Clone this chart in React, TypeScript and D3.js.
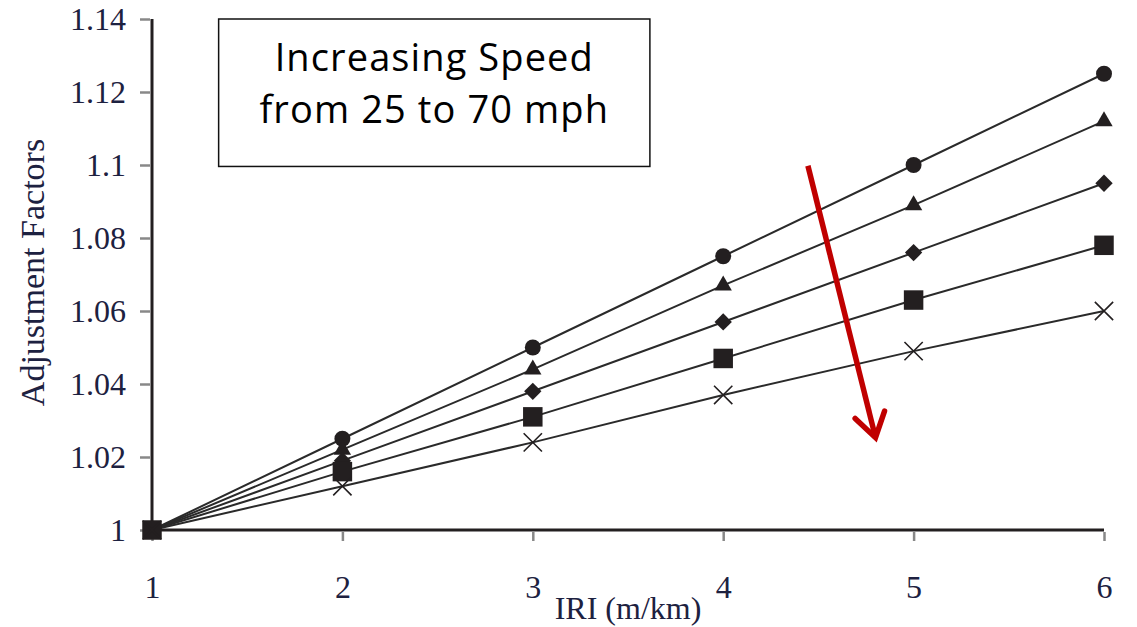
import * as d3 from 'd3';
import { useEffect, useRef } from 'react';

// IRI values (m/km)
const iri = [1, 2, 3, 4, 5, 6];

// adjustment factors, top line to bottom line (25 -> 70 mph)
const circleVals = [1, 1.025, 1.05, 1.075, 1.1, 1.125];
const triangleVals = [1, 1.022, 1.044, 1.067, 1.089, 1.112];
const diamondVals = [1, 1.019, 1.038, 1.057, 1.076, 1.095];
const squareVals = [1, 1.016, 1.031, 1.047, 1.063, 1.078];
const crossVals = [1, 1.012, 1.024, 1.037, 1.049, 1.06];

const yTicks = [1, 1.02, 1.04, 1.06, 1.08, 1.1, 1.12, 1.14];
const xTicks = [1, 2, 3, 4, 5, 6];

// annotation: text box corners and arrow ends, in data units
const boxX = [1.35, 3.615];
const boxY = [1.14, 1.0996];
const arrowX = [4.445, 4.8];
const arrowY = [1.0998, 1.0253];
const boxLines = ['Increasing Speed', 'from 25 to 70 mph'];

const series = [
    { name: 'circle', values: circleVals },
    { name: 'triangle', values: triangleVals },
    { name: 'diamond', values: diamondVals },
    { name: 'square', values: squareVals },
    { name: 'cross', values: crossVals },
];

function App() {
    const ref = useRef(null);

    useEffect(() => {
        document.body.style.margin = '0';
        const svg = d3.select(ref.current);
        svg.selectAll('*').remove();

        const width = 1137;
        const height = 627;
        const margin = { top: 19, right: 33, bottom: 97, left: 152 };

        const x = d3.scaleLinear().domain([1, 6]).range([margin.left, width - margin.right]);
        const y = d3.scaleLinear().domain([1, 1.14]).range([height - margin.bottom, margin.top]);

        const labelColor = '#1d2140';
        const serif = '"Liberation Serif", "DejaVu Serif", serif';

        // y axis
        const gy = svg.append('g')
            .attr('transform', `translate(${margin.left},0)`)
            .call(d3.axisLeft(y).tickValues(yTicks).tickSize(12).tickPadding(14)
                .tickFormat(d => String(+d.toFixed(2))));
        gy.select('.domain').attr('stroke', '#231f20').attr('stroke-width', 3)
            .attr('d', `M0,${y(1)}V${y(1.14)}`);
        gy.selectAll('.tick line').attr('stroke', '#888').attr('stroke-width', 2.5).attr('x2', -12).attr('x1', -2);
        gy.selectAll('.tick text').attr('fill', labelColor).attr('font-family', serif)
            .attr('font-size', 32).attr('dy', '0.33em');

        // x axis
        const gx = svg.append('g')
            .attr('transform', `translate(0,${y(1)})`)
            .call(d3.axisBottom(x).tickValues(xTicks).tickSize(11).tickPadding(34)
                .tickFormat(d3.format('d')));
        gx.select('.domain').attr('stroke', '#231f20').attr('stroke-width', 3)
            .attr('d', `M${x(1)},0H${x(6)}`);
        gx.selectAll('.tick line').attr('stroke', '#888').attr('stroke-width', 2.5).attr('y1', 2);
        gx.selectAll('.tick text').attr('fill', labelColor).attr('font-family', serif)
            .attr('font-size', 32);

        // axis titles
        svg.append('text')
            .attr('x', (x(1) + x(6)) / 2)
            .attr('y', 619)
            .attr('text-anchor', 'middle')
            .attr('font-family', serif)
            .attr('font-size', 32)
            .attr('fill', labelColor)
            .text('IRI (m/km)');

        svg.append('text')
            .attr('transform', `translate(44,${(y(1) + y(1.14)) / 2 - 2}) rotate(-90)`)
            .attr('text-anchor', 'middle')
            .attr('font-family', serif)
            .attr('font-size', 34)
            .attr('fill', labelColor)
            .text('Adjustment Factors');

        // lines
        const line = d3.line()
            .x((d, i) => x(iri[i]))
            .y(d => y(d));

        svg.selectAll('.series')
            .data(series)
            .join('path')
            .attr('class', 'series')
            .attr('fill', 'none')
            .attr('stroke', '#2a2a2a')
            .attr('stroke-width', 2)
            .attr('d', d => line(d.values));

        // markers
        const symbols = {
            circle: d3.symbol(d3.symbolCircle, 200),
            triangle: d3.symbol(d3.symbolTriangle, 130),
            diamond: d3.symbol(d3.symbolSquare, 150),
            square: d3.symbol(d3.symbolSquare, 380),
        };

        series.forEach(s => {
            const g = svg.append('g');
            const pts = s.values.map((v, i) => ({ x: iri[i], y: v }));
            if (s.name === 'cross') {
                g.selectAll('path')
                    .data(pts)
                    .join('path')
                    .attr('transform', d => `translate(${x(d.x)},${y(d.y)})`)
                    .attr('d', d3.symbol(d3.symbolTimes, 220)())
                    .attr('fill', 'none')
                    .attr('stroke', '#231f20')
                    .attr('stroke-width', 1.6);
            } else {
                const rot = s.name === 'diamond' ? ' rotate(45)' : '';
                g.selectAll('path')
                    .data(pts)
                    .join('path')
                    .attr('transform', d => `translate(${x(d.x)},${y(d.y)})${rot}`)
                    .attr('d', symbols[s.name]())
                    .attr('fill', '#231f20');
            }
        });

        // text box
        svg.append('rect')
            .attr('x', x(boxX[0]))
            .attr('y', y(boxY[0]))
            .attr('width', x(boxX[1]) - x(boxX[0]))
            .attr('height', y(boxY[1]) - y(boxY[0]))
            .attr('fill', 'white')
            .attr('stroke', '#111')
            .attr('stroke-width', 1.5);

        const cx = (x(boxX[0]) + x(boxX[1])) / 2;
        svg.selectAll('.boxtxt')
            .data(boxLines)
            .join('text')
            .attr('class', 'boxtxt')
            .attr('x', cx)
            .attr('y', (d, i) => y(boxY[0]) + 52 + i * 52)
            .attr('text-anchor', 'middle')
            .attr('font-family', '"Open Sans", "Noto Sans", sans-serif')
            .attr('font-size', 38)
            .attr('letter-spacing', 1.1)
            .attr('fill', '#000')
            .text(d => d);

        // red arrow
        const x0 = x(arrowX[0]), y0 = y(arrowY[0]);
        const x1 = x(arrowX[1]), y1 = y(arrowY[1]);
        const ang = Math.atan2(y1 - y0, x1 - x0);
        const headLen = 28;
        const spread = Math.PI / 5.5;
        const red = '#c00000';
        svg.append('line')
            .attr('x1', x0).attr('y1', y0).attr('x2', x1).attr('y2', y1)
            .attr('stroke', red).attr('stroke-width', 5.5);
        svg.append('path')
            .attr('d', `M${x1 - headLen * Math.cos(ang - spread)},${y1 - headLen * Math.sin(ang - spread)}L${x1},${y1}L${x1 - headLen * Math.cos(ang + spread)},${y1 - headLen * Math.sin(ang + spread)}`)
            .attr('fill', 'none')
            .attr('stroke', red)
            .attr('stroke-width', 5.5)
            .attr('stroke-linecap', 'round')
            .attr('stroke-linejoin', 'miter');
    }, []);

    return (
        <div>
            <svg ref={ref} width={1137} height={627} style={{ display: 'block' }} />
        </div>
    );
}

export default App;
